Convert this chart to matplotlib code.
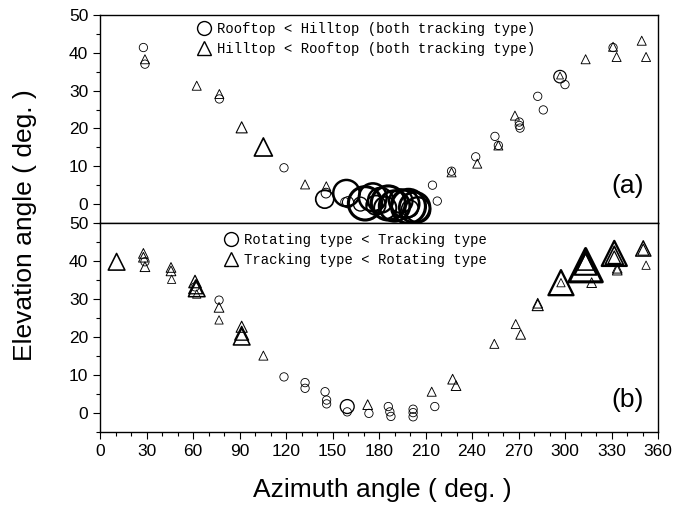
import matplotlib
matplotlib.use("Agg")
import matplotlib.pyplot as plt
from matplotlib.lines import Line2D
import numpy as np

# ---------------- data ----------------
# Panel (a): Rooftop vs Hilltop
a_circ_x = [28, 29, 77, 118.7, 145.8, 145, 159, 158, 160, 168, 171, 176, 178, 181, 184, 186, 190, 194, 197, 199, 200, 203, 205,
            214.5, 217.6, 226.8, 242.4, 254.8, 257, 270.5, 270.5, 271, 282.4, 286, 296.8, 300, 331]
a_circ_y = [41.4, 37, 27.8, 9.6, 2.9, 1.3, 2.9, 0.6, 0.5, 0.0, 0.2, 1.8, -0.3, 1.0, -1.0, 0.3, -0.5, 0.8, 0.0, -0.6, -1.2, -0.9, -1.5,
            5.0, 0.8, 8.7, 12.5, 17.9, 15.5, 21.7, 20.8, 20.1, 28.5, 24.9, 33.7, 31.6, 41.4]
a_circ_s = [6, 6, 6, 6, 7, 13, 19, 6, 8, 10, 24, 20, 14, 18, 16, 24.5, 22, 17, 20, 24.5, 12, 22, 18,
            6, 6, 6, 6, 6, 6, 6, 6, 6, 6, 6, 9, 6, 6]

a_tri_x = [29, 62.4, 77, 91.4, 105.4, 132.3, 146, 226.8, 243.4, 257, 267.7, 296.8, 313.3, 331, 333.3, 349.5, 352.3]
a_tri_y = [38.3, 31.3, 29.1, 20.3, 15.1, 5.2, 4.7, 8.4, 10.7, 15.5, 23.4, 34.0, 38.3, 41.6, 38.9, 43.2, 38.9]
a_tri_s = [6.5, 6.5, 6.5, 8, 13, 6.5, 6.5, 6.5, 6.5, 6.5, 6.5, 5, 6.5, 6.5, 6.5, 6.5, 6.5]

# Panel (b): Rotating vs Tracking
b_circ_x = [29, 61.3, 76.8, 118.7, 132.3, 132.3, 145.2, 146.2, 146.2, 159.5, 159.5, 173.5, 186, 187, 187.7,
            202, 202, 202, 216]
b_circ_y = [39.8, 33.2, 29.7, 9.5, 8.0, 6.5, 5.6, 3.4, 2.4, 1.7, 0.3, -0.1, 1.7, 0.3, -0.9,
            1.0, 0.1, -1.0, 1.7]
b_circ_s = [6, 6, 6, 6, 6, 6, 6, 6, 6, 10, 6, 6, 6, 6, 6, 6, 6, 6, 6]

b_tri_x = [10.7, 28, 28, 29, 45.8, 45.8, 46.2, 61.3, 61.7, 62.4, 62.4, 76.8, 76.8, 91.4, 91.4, 91.4, 105.4,
           172.7, 214, 227.5, 229.7, 254.4, 268.2, 271.4, 282.4, 282.4, 297.4, 297.4, 313.3, 313.3, 313.3,
           317.2, 331.8, 331.8, 331.8, 333.7, 333.7, 350.5, 350.5, 352.3]
b_tri_y = [39.8, 42, 41, 38.5, 38.3, 37.4, 35.2, 34.6, 33.2, 32.8, 31.3, 27.8, 24.5, 22.7, 21.0, 20.1, 15.1,
           2.2, 5.6, 8.9, 7.2, 18.2, 23.4, 20.7, 28.9, 28.4, 34.3, 34.3, 38.9, 39.3, 39.8,
           34.3, 42, 41.5, 41, 38.1, 37.6, 43.3, 43.0, 38.9]
b_tri_s = [12, 7, 7, 7, 7, 7, 6, 9, 10, 12, 6, 7, 6, 8, 10, 12, 6.5,
           7, 6.5, 7, 7, 6.5, 6.5, 7, 7, 8, 18, 6, 24, 16, 12,
           7, 18, 13, 9, 7, 7, 11, 8, 6]

x_ticks = [0, 30, 60, 90, 120, 150, 180, 210, 240, 270, 300, 330, 360]
y_ticks = [0, 10, 20, 30, 40, 50]

legend_a = ["Rooftop < Hilltop (both tracking type)", "Hilltop < Rooftop (both tracking type)"]
legend_b = ["Rotating type < Tracking type", "Tracking type < Rotating type"]

# ---------------- figure ----------------
sans = ['Liberation Sans', 'DejaVu Sans']
fig = plt.figure(figsize=(6.76, 5.08), dpi=100)
L, R = 100 / 676, 658 / 676
axa = fig.add_axes([L, 1 - 223 / 508, R - L, 208 / 508])
axb = fig.add_axes([L, 1 - 432 / 508, R - L, 209 / 508])


def lw_of(s):
    s = np.asarray(s, dtype=float)
    return 0.6 + 0.09 * np.clip(s - 6, 0, None)


def draw(ax, cx, cy, cs, tx, ty, ts):
    ax.scatter(cx, cy, s=np.asarray(cs) ** 2, marker='o', facecolors='none',
               edgecolors='black', linewidths=lw_of(cs), zorder=3)
    ax.scatter(tx, ty, s=np.asarray(ts) ** 2, marker='^', facecolors='none',
               edgecolors='black', linewidths=lw_of(ts), zorder=3)


draw(axa, a_circ_x, a_circ_y, a_circ_s, a_tri_x, a_tri_y, a_tri_s)
draw(axb, b_circ_x, b_circ_y, b_circ_s, b_tri_x, b_tri_y, b_tri_s)

for ax in (axa, axb):
    ax.set_xlim(0, 360)
    ax.set_ylim(-5, 50)
    ax.set_xticks(x_ticks)
    ax.set_xticks(np.arange(0, 361, 10), minor=True)
    ax.set_yticks(y_ticks)
    ax.set_yticks(np.arange(-5, 51, 5), minor=True)
    ax.tick_params(which='both', direction='out', top=False, right=False, width=0.8)
    ax.tick_params(which='major', length=5)
    ax.tick_params(which='minor', length=3)
    for sp in ax.spines.values():
        sp.set_linewidth(1.0)
    for lab in ax.get_xticklabels() + ax.get_yticklabels():
        lab.set_family(sans)
        lab.set_fontsize(12.5)

axa.tick_params(axis='x', labelbottom=False)
axb.tick_params(axis='x', pad=4)

mono = ['Liberation Mono', 'DejaVu Sans Mono']
hc = Line2D([], [], ls='none', marker='o', ms=10, mfc='none', mec='black', mew=1.0)
ht = Line2D([], [], ls='none', marker='^', ms=10, mfc='none', mec='black', mew=1.0)
la = axa.legend([hc, ht], legend_a, loc='upper left', bbox_to_anchor=(0.162, 1.0),
                frameon=False, borderpad=0, handlelength=1.0, handletextpad=0.4,
                labelspacing=0.4, prop={'family': mono, 'size': 10})
lb = axb.legend([hc, ht], legend_b, loc='upper left', bbox_to_anchor=(0.21, 0.984),
                frameon=False, borderpad=0, handlelength=1.0, handletextpad=0.4,
                labelspacing=0.4, prop={'family': mono, 'size': 10})

axa.text(0.975, 0.18, '(a)', transform=axa.transAxes, ha='right', va='center',
         fontsize=19, family=sans)
axb.text(0.975, 0.155, '(b)', transform=axb.transAxes, ha='right', va='center',
         fontsize=19, family=sans)

fig.text(25 / 676, 1 - 225 / 508, 'Elevation angle ( deg. )', rotation=90,
         ha='center', va='center', fontsize=19, family=sans)
fig.text(382 / 676, 1 - 490 / 508, 'Azimuth angle ( deg. )',
         ha='center', va='center', fontsize=19, family=sans)

fig.savefig('out.png', dpi=100)
